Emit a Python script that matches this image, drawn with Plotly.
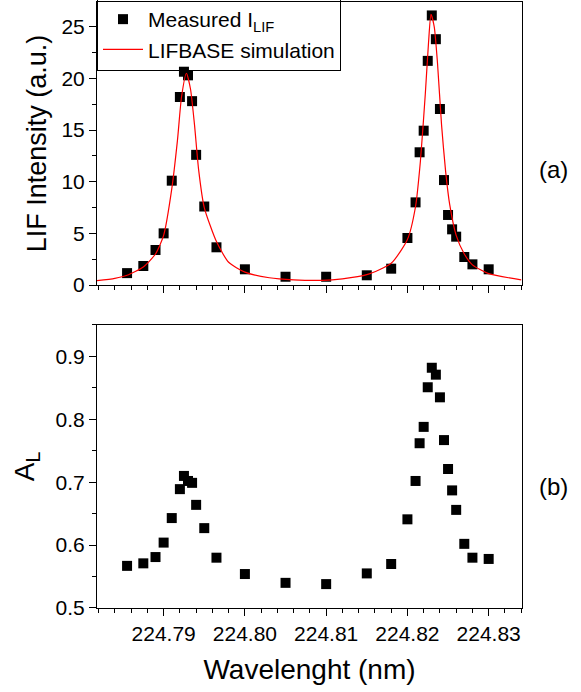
import plotly.graph_objects as go
from plotly.subplots import make_subplots

# Measured LIF intensity (panel a)
wl_meas = [224.7855, 224.7875, 224.7890, 224.7900, 224.7910, 224.7920, 224.7925, 224.7930,
           224.7935, 224.7940, 224.7950, 224.7965, 224.8000, 224.8050, 224.8100,
           224.8150, 224.8180, 224.8200, 224.8210, 224.8215, 224.8220, 224.8225, 224.8230,
           224.8235, 224.8240, 224.8245, 224.8250, 224.8255, 224.8260, 224.8270, 224.8280,
           224.8300]
lif_meas = [1.15, 1.84, 3.39, 5.0, 10.1, 18.2, 20.65, 20.3,
            17.8, 12.6, 7.6, 3.65, 1.52, 0.8, 0.8,
            0.94, 1.58, 4.55, 8.0, 12.85, 14.94, 21.7, 26.1,
            23.8, 17.04, 10.16, 6.78, 5.39, 4.68, 2.71, 2.0,
            1.52]

# LIFBASE simulation curve (panel a)
wl_sim = [224.7818, 224.7840, 224.7855, 224.7875, 224.7890, 224.7900, 224.7910, 224.7917,
          224.7922, 224.7928, 224.7933, 224.7938, 224.7943, 224.7950, 224.7965, 224.7980,
          224.8000, 224.8030, 224.8060, 224.8095, 224.8120, 224.8150, 224.8180, 224.8200,
          224.8210, 224.8216, 224.8222, 224.8226, 224.8229, 224.8233, 224.8237, 224.8242,
          224.8247, 224.8252, 224.8260, 224.8270, 224.8280, 224.8300, 224.8340]
lif_sim = [0.42, 0.65, 0.95, 1.75, 3.0, 4.8, 9.3, 14.0,
           18.2, 20.5, 19.0, 15.5, 11.2, 7.5, 4.2, 2.2,
           1.25, 0.7, 0.5, 0.45, 0.6, 1.0, 2.1, 4.4,
           7.6, 12.0, 18.5, 23.5, 26.2, 25.0, 21.5, 15.5,
           11.0, 7.8, 4.8, 3.0, 1.95, 1.1, 0.5]

# A_L (panel b)
al_vals = [0.567, 0.571, 0.581, 0.604, 0.643, 0.689, 0.710, 0.702,
           0.699, 0.664, 0.627, 0.580, 0.554, 0.540, 0.538,
           0.555, 0.570, 0.641, 0.702, 0.762, 0.788, 0.851, 0.882,
           0.871, 0.835, 0.767, 0.721, 0.687, 0.656, 0.602, 0.580,
           0.578]

FONT = "Liberation Sans, Arial, sans-serif"

fig = make_subplots(rows=2, cols=1, vertical_spacing=0.066)

fig.add_trace(go.Scatter(x=wl_meas, y=lif_meas, mode="markers", name="Measured I<sub>LIF</sub>",
                         marker=dict(symbol="square", size=10, color="black")), row=1, col=1)
fig.add_trace(go.Scatter(x=wl_sim, y=lif_sim, mode="lines", name="LIFBASE simulation",
                         line=dict(color="red", width=1.2, shape="spline", smoothing=0.6)), row=1, col=1)
fig.add_trace(go.Scatter(x=wl_meas, y=al_vals, mode="markers", showlegend=False,
                         marker=dict(symbol="square", size=10, color="black")), row=2, col=1)

xcommon = dict(range=[224.7818, 224.8341], tick0=224.79, dtick=0.01, tickformat=".2f",
               ticks="outside", ticklen=7, tickwidth=1, tickcolor="black",
               minor=dict(dtick=0.002, ticks="outside", ticklen=4, tickcolor="black"),
               showline=True, linecolor="black", linewidth=1, mirror=True,
               showgrid=False, zeroline=False, automargin=False,
               tickfont=dict(family=FONT, size=21, color="black"))
fig.update_xaxes(**xcommon, showticklabels=False, row=1, col=1)
fig.update_xaxes(**xcommon, showticklabels=True, row=2, col=1,
                 title=dict(text="Wavelenght (nm)", font=dict(family=FONT, size=28, color="black"), standoff=15))

ycommon = dict(ticks="outside", ticklen=7, tickwidth=1, tickcolor="black",
               showline=True, linecolor="black", linewidth=1, mirror=True,
               showgrid=False, zeroline=False, automargin=False,
               tickfont=dict(family=FONT, size=21, color="black"))
fig.update_yaxes(**ycommon, range=[0, 27.4], dtick=5, tick0=0,
                 minor=dict(dtick=2.5, ticks="outside", ticklen=4, tickcolor="black"),
                 title=dict(text="LIF Intensity (a.u.)", font=dict(family=FONT, size=27, color="black"), standoff=6),
                 row=1, col=1)
fig.update_yaxes(**ycommon, range=[0.5, 0.95], dtick=0.1, tick0=0.5, tickformat=".1f",
                 minor=dict(dtick=0.05, ticks="outside", ticklen=4, tickcolor="black"),
                 title=dict(text="A<sub>L</sub>", font=dict(family=FONT, size=28, color="black"), standoff=12),
                 row=2, col=1)

fig.add_annotation(text="(a)", x=1.073, y=0.723, xref="paper", yref="paper", showarrow=False,
                   xanchor="center", yanchor="middle",
                   font=dict(family=FONT, size=24, color="black"))
fig.add_annotation(text="(b)", x=1.073, y=0.2, xref="paper", yref="paper", showarrow=False,
                   xanchor="center", yanchor="middle",
                   font=dict(family=FONT, size=24, color="black"))

fig.update_layout(
    width=581, height=692,
    margin=dict(l=97, r=59, t=2, b=84, autoexpand=False),
    paper_bgcolor="white", plot_bgcolor="white",
    font=dict(family=FONT, color="black"),
    legend=dict(x=0, y=1.0066, xanchor="left", yanchor="top", bgcolor="rgba(255,255,255,0)",
                bordercolor="black", borderwidth=1,
                font=dict(family=FONT, size=21, color="black"),
                tracegroupgap=0, itemwidth=40),
)

fig.write_html("out.html", config={"displayModeBar": False},
               post_script="document.body.style.margin='0px';document.body.style.padding='0px';")
